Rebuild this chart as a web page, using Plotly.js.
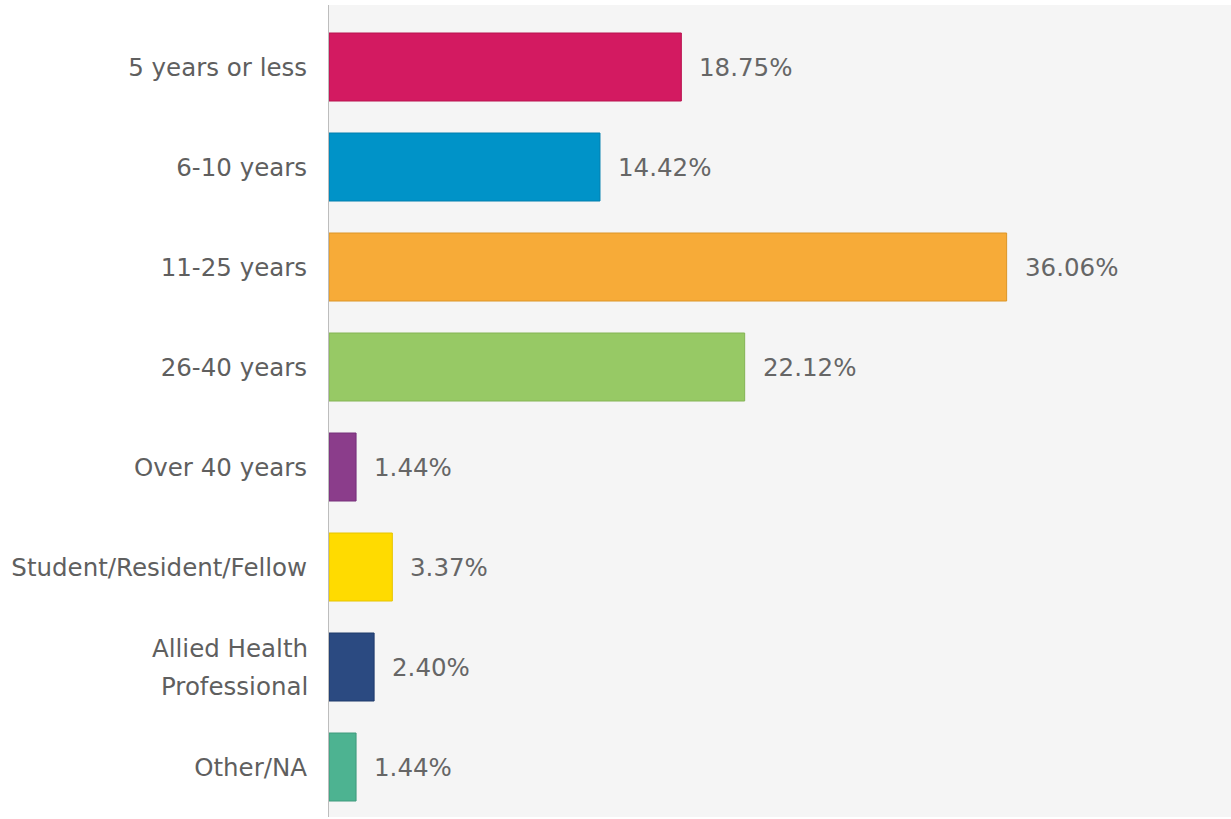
<!DOCTYPE html>
<html>
<head>
<meta charset="utf-8">
<script src="https://cdn.plot.ly/plotly-3.0.1.min.js"></script>
<style>html,body{margin:0;padding:0;background:#fff;}#chart{width:1231px;height:819px;}</style>
</head>
<body>
<div id="chart"></div>
<script>
const categories = ["5 years or less", "6-10 years", "11-25 years", "26-40 years", "Over 40 years", "Student/Resident/Fellow", "Allied Health Professional", "Other/NA"];
const tickLabels = ["5 years or less", "6-10 years", "11-25 years", "26-40 years", "Over 40 years", "Student/Resident/Fellow", "", "Other/NA"];
const wrappedLabel = ["Allied Health", "Professional"];
const values = [18.75, 14.42, 36.06, 22.12, 1.44, 3.37, 2.40, 1.44];
const valueLabels = ["18.75%", "14.42%", "36.06%", "22.12%", "1.44%", "3.37%", "2.40%", "1.44%"];
const barColors = ["#d31a61", "#0093c8", "#f7ab38", "#97c965", "#8b3d8b", "#ffdb00", "#2b4a81", "#4db391"];
const borderColors = ["#b8124f", "#007fae", "#dc9526", "#84b455", "#76307a", "#e6c400", "#1f3a6a", "#3f9a7c"];

const FONT = "DejaVu Sans, sans-serif";

const annotations = values.map((v, i) => ({
  x: v, y: categories[i], xref: "x", yref: "y",
  text: valueLabels[i], showarrow: false,
  xanchor: "left", yanchor: "middle", xshift: 16,
  font: {family: FONT, size: 24.5, color: "#666666"}
}));
wrappedLabel.forEach((t, k) => {
  annotations.push({
    x: 0, xref: "paper", y: categories[6], yref: "y",
    text: t, showarrow: false, xanchor: "right", yanchor: "middle",
    xshift: -19, yshift: k === 0 ? 19 : -19,
    font: {family: FONT, size: 24.5, color: "#5f5f5f"}
  });
});

const trace = {
  type: "bar", orientation: "h",
  x: values, y: categories,
  width: 0.68,
  marker: {color: barColors, line: {color: borderColors, width: 1}},
  hoverinfo: "none"
};

const layout = {
  width: 1231, height: 819,
  margin: {l: 329, r: 0, t: 5, b: 2, pad: 0},
  paper_bgcolor: "#ffffff",
  plot_bgcolor: "#f5f5f5",
  showlegend: false,
  xaxis: {range: [0, 48], showgrid: false, zeroline: false, showticklabels: false, ticks: "", showline: false, fixedrange: true},
  yaxis: {
    type: "category", range: [7.5, -0.62],
    tickvals: categories, ticktext: tickLabels,
    showgrid: false, zeroline: false,
    showline: true, linecolor: "#bdbdbd", linewidth: 1,
    ticks: "outside", ticklen: 16, tickcolor: "rgba(0,0,0,0)",
    tickfont: {family: FONT, size: 24.5, color: "#5f5f5f"},
    fixedrange: true
  },
  annotations: annotations
};

Plotly.newPlot("chart", [trace], layout, {displayModeBar: false, staticPlot: true});
</script>
</body>
</html>
